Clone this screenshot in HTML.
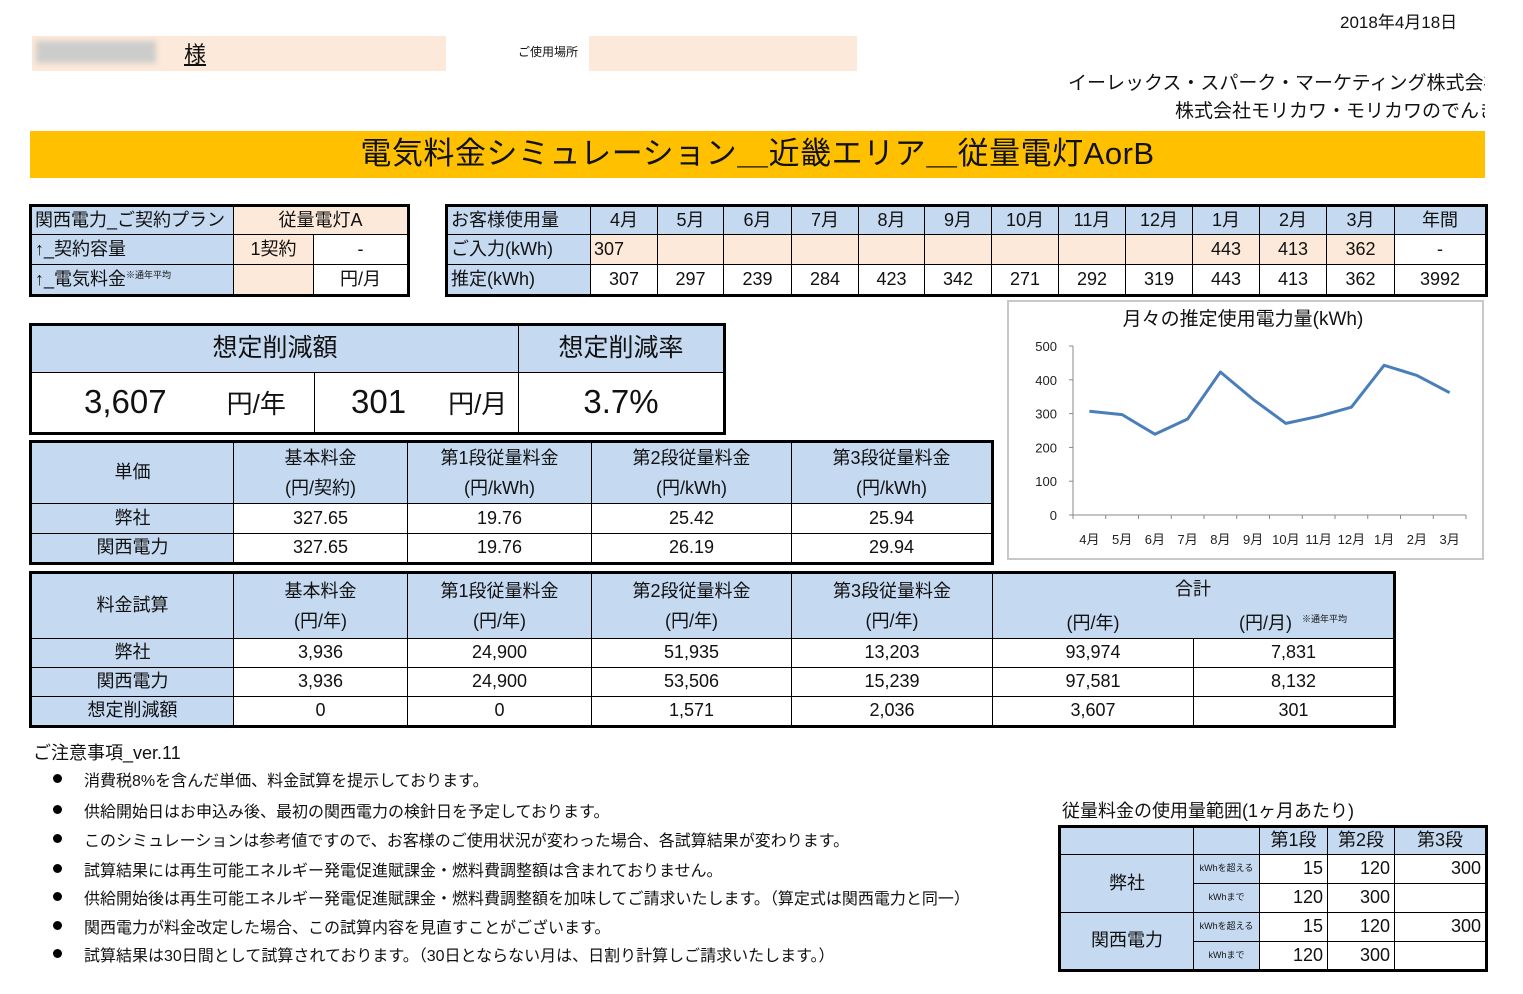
<!DOCTYPE html>
<html><head><meta charset="utf-8">
<style>
*{box-sizing:border-box;margin:0;padding:0}
body{width:1523px;height:994px;background:#fff;position:relative;overflow:hidden;font-family:"Liberation Sans","Noto Sans CJK JP",sans-serif;color:#111}
.a{position:absolute}
table{position:absolute;border-collapse:collapse;border:3px solid #000;table-layout:fixed}
td{border:1px solid #000;font-size:18px;text-align:center;padding:0;line-height:1.1;white-space:nowrap;overflow:hidden}
.b{background:#c5d9f1}.p{background:#fde9d9}
.l{text-align:left;padding-left:3px}.r{text-align:right;padding-right:4px}
.note{position:absolute;left:84px;font-size:16px}
.dot{position:absolute;left:53px;width:9px;height:9px;border-radius:50%;background:#000}
</style></head><body>
<div class="a" style="left:1340px;top:8px;font-size:17px">2018年4月18日</div>
<div class="a p" style="left:32px;top:36px;width:414px;height:35px"><span style="position:absolute;left:4px;top:5px;width:120px;height:22px;background:#ccc;filter:blur(3px)"></span><span style="position:absolute;left:152px;top:1px;font-size:22px;text-decoration:underline">様</span></div>
<div class="a" style="left:518px;top:43px;font-size:12px">ご使用場所</div>
<div class="a p" style="left:589px;top:36px;width:268px;height:35px"></div>
<div class="a" style="left:1068px;top:70px;width:417px;overflow:hidden;font-size:19px;line-height:28px;white-space:nowrap">イーレックス・スパーク・マーケティング株式会社</div>
<div class="a" style="left:1175px;top:98px;width:310px;overflow:hidden;font-size:19px;line-height:28px;white-space:nowrap">株式会社モリカワ・モリカワのでんき</div>
<div class="a" style="left:30px;top:131px;width:1455px;height:47px;background:#ffc000;font-size:31px;letter-spacing:0.5px;text-align:center;line-height:46px">電気料金シミュレーション＿近畿エリア＿従量電灯AorB</div>

<table style="left:29px;top:204px;width:378px">
<colgroup><col style="width:203px"><col style="width:80px"><col style="width:95px"></colgroup>
<tr style="height:29px"><td class="b l">関西電力_ご契約プラン</td><td class="p" colspan="2">従量電灯A</td></tr>
<tr style="height:30px"><td class="b l">↑_契約容量</td><td class="p">1契約</td><td>-</td></tr>
<tr style="height:31px"><td class="b l">↑_電気料金<sup style="font-size:9px">※通年平均</sup></td><td class="p"></td><td>円/月</td></tr>
</table>

<table style="left:445px;top:204px;width:1040px">
<colgroup><col style="width:144px"><col style="width:67px"><col style="width:66px"><col style="width:68px"><col style="width:67px"><col style="width:66px"><col style="width:67px"><col style="width:67px"><col style="width:67px"><col style="width:67px"><col style="width:67px"><col style="width:67px"><col style="width:68px"><col style="width:92px"></colgroup>
<tr class="b" style="height:29px"><td class="l">お客様使用量</td><td>4月</td><td>5月</td><td>6月</td><td>7月</td><td>8月</td><td>9月</td><td>10月</td><td>11月</td><td>12月</td><td>1月</td><td>2月</td><td>3月</td><td>年間</td></tr>
<tr style="height:30px"><td class="b l">ご入力(kWh)</td><td class="p l">307</td><td class="p"></td><td class="p"></td><td class="p"></td><td class="p"></td><td class="p"></td><td class="p"></td><td class="p"></td><td class="p"></td><td class="p">443</td><td class="p">413</td><td class="p">362</td><td>-</td></tr>
<tr style="height:31px"><td class="b l">推定(kWh)</td><td>307</td><td>297</td><td>239</td><td>284</td><td>423</td><td>342</td><td>271</td><td>292</td><td>319</td><td>443</td><td>413</td><td>362</td><td>3992</td></tr>
</table>

<table style="left:29px;top:323px;width:694px">
<colgroup><col style="width:284px"><col style="width:204px"><col style="width:206px"></colgroup>
<tr class="b" style="height:48px"><td colspan="2" style="font-size:25px">想定削減額</td><td style="font-size:25px">想定削減率</td></tr>
<tr style="height:61px"><td style="font-size:33px;text-align:left;padding-left:52px">3,607<span style="font-size:26px;margin-left:60px">円/年</span></td><td style="font-size:33px;text-align:left;padding-left:36px">301<span style="font-size:26px;margin-left:42px">円/月</span></td><td style="font-size:33px">3.7%</td></tr>
</table>

<table style="left:29px;top:440px;width:962px">
<colgroup><col style="width:203px"><col style="width:174px"><col style="width:184px"><col style="width:200px"><col style="width:201px"></colgroup>
<tr class="b" style="height:60px"><td>単価</td><td style="line-height:30px">基本料金<br>(円/契約)</td><td style="line-height:30px">第1段従量料金<br>(円/kWh)</td><td style="line-height:30px">第2段従量料金<br>(円/kWh)</td><td style="line-height:30px">第3段従量料金<br>(円/kWh)</td></tr>
<tr style="height:30px"><td class="b">弊社</td><td>327.65</td><td>19.76</td><td>25.42</td><td>25.94</td></tr>
<tr style="height:30px"><td class="b">関西電力</td><td>327.65</td><td>19.76</td><td>26.19</td><td>29.94</td></tr>
</table>

<table style="left:29px;top:571px;width:1364px">
<colgroup><col style="width:203px"><col style="width:174px"><col style="width:184px"><col style="width:200px"><col style="width:201px"><col style="width:201px"><col style="width:201px"></colgroup>
<tr class="b" style="height:60px"><td>料金試算</td><td style="line-height:30px">基本料金<br>(円/年)</td><td style="line-height:30px">第1段従量料金<br>(円/年)</td><td style="line-height:30px">第2段従量料金<br>(円/年)</td><td style="line-height:30px">第3段従量料金<br>(円/年)</td><td colspan="2" style="line-height:30px">合計<br><span style="display:inline-block;width:200px">(円/年)</span><span style="display:inline-block;width:200px">(円/月)<sup style="font-size:9px;margin-left:10px">※通年平均</sup></span></td></tr>
<tr style="height:29px"><td class="b">弊社</td><td>3,936</td><td>24,900</td><td>51,935</td><td>13,203</td><td>93,974</td><td>7,831</td></tr>
<tr style="height:29px"><td class="b">関西電力</td><td>3,936</td><td>24,900</td><td>53,506</td><td>15,239</td><td>97,581</td><td>8,132</td></tr>
<tr style="height:30px"><td class="b">想定削減額</td><td>0</td><td>0</td><td>1,571</td><td>2,036</td><td>3,607</td><td>301</td></tr>
</table>

<div class="a" style="left:33px;top:739px;font-size:18px">ご注意事項_ver.11</div>
<div>
<div class="dot" style="top:774px"></div><div class="note" style="top:767px">消費税8%を含んだ単価、料金試算を提示しております。</div>
<div class="dot" style="top:805px"></div><div class="note" style="top:798px">供給開始日はお申込み後、最初の関西電力の検針日を予定しております。</div>
<div class="dot" style="top:834px"></div><div class="note" style="top:827px">このシミュレーションは参考値ですので、お客様のご使用状況が変わった場合、各試算結果が変わります。</div>
<div class="dot" style="top:864px"></div><div class="note" style="top:857px">試算結果には再生可能エネルギー発電促進賦課金・燃料費調整額は含まれておりません。</div>
<div class="dot" style="top:892px"></div><div class="note" style="top:885px">供給開始後は再生可能エネルギー発電促進賦課金・燃料費調整額を加味してご請求いたします。（算定式は関西電力と同一）</div>
<div class="dot" style="top:921px"></div><div class="note" style="top:914px">関西電力が料金改定した場合、この試算内容を見直すことがございます。</div>
<div class="dot" style="top:949px"></div><div class="note" style="top:942px">試算結果は30日間として試算されております。（30日とならない月は、日割り計算しご請求いたします。）</div>
</div>

<div class="a" style="left:1062px;top:797px;font-size:18px">従量料金の使用量範囲(1ヶ月あたり)</div>
<table style="left:1058px;top:825px;width:427px">
<colgroup><col style="width:134px"><col style="width:66px"><col style="width:68px"><col style="width:67px"><col style="width:92px"></colgroup>
<tr class="b" style="height:28px"><td></td><td></td><td>第1段</td><td>第2段</td><td>第3段</td></tr>
<tr style="height:29px"><td class="b" rowspan="2">弊社</td><td class="b" style="font-size:9px">kWhを超える</td><td class="r">15</td><td class="r">120</td><td class="r">300</td></tr>
<tr style="height:29px"><td class="b" style="font-size:9px">kWhまで</td><td class="r">120</td><td class="r">300</td><td></td></tr>
<tr style="height:29px"><td class="b" rowspan="2">関西電力</td><td class="b" style="font-size:9px">kWhを超える</td><td class="r">15</td><td class="r">120</td><td class="r">300</td></tr>
<tr style="height:29px"><td class="b" style="font-size:9px">kWhまで</td><td class="r">120</td><td class="r">300</td><td></td></tr>
</table>

<div class="a" style="left:1007px;top:300px;width:477px;height:260px;border:2px solid #c8c8c8"></div>
<svg id="chart" class="a" style="left:0;top:0" width="1523" height="994"></svg>
<script>
const months=["4月","5月","6月","7月","8月","9月","10月","11月","12月","1月","2月","3月"];
const usage=[307,297,239,284,423,342,271,292,319,443,413,362];
const yTicks=[0,100,200,300,400,500];
const NS="http://www.w3.org/2000/svg",svg=document.getElementById("chart");
const x0=1073,x1=1466,yb=515,yt=346;
const bw=(x1-x0)/months.length;
const X=i=>x0+bw*(i+0.5), Y=v=>yb-(v/500)*(yb-yt);
function mk(t,a){const e=document.createElementNS(NS,t);for(const k in a)e.setAttribute(k,a[k]);svg.appendChild(e);return e;}
const title=mk("text",{x:1243,y:325,"font-size":19,"text-anchor":"middle",fill:"#111"});
title.textContent="月々の推定使用電力量(kWh)";


const ya=mk("line",{x1:x0,y1:yt,x2:x0,y2:yb,stroke:"#888"});


const xa=mk("line",{x1:x0,y1:yb,x2:x1,y2:yb,stroke:"#888"});


yTicks.forEach(v=>{
 mk("line",{x1:x0-4,y1:Y(v),x2:x0,y2:Y(v),stroke:"#888"});
 const t=mk("text",{x:x0-16,y:Y(v)+5,"font-size":13,"text-anchor":"end",fill:"#222"});
 t.textContent=v;
 
 
});
months.forEach((m,i)=>{
 mk("line",{x1:x0+bw*i,y1:yb,x2:x0+bw*i,y2:yb+4,stroke:"#888"});
 const t=mk("text",{x:X(i),y:544,"font-size":13,"text-anchor":"middle",fill:"#222"});
 t.textContent=m;
 
 
});
mk("line",{x1:x1,y1:yb,x2:x1,y2:yb+4,stroke:"#888"});
const line=mk("polyline",{points:usage.map((v,i)=>X(i)+","+Y(v)).join(" "),fill:"none",stroke:"#4a7ebb","stroke-width":3,"stroke-linejoin":"round"});


</script>
</body></html>
